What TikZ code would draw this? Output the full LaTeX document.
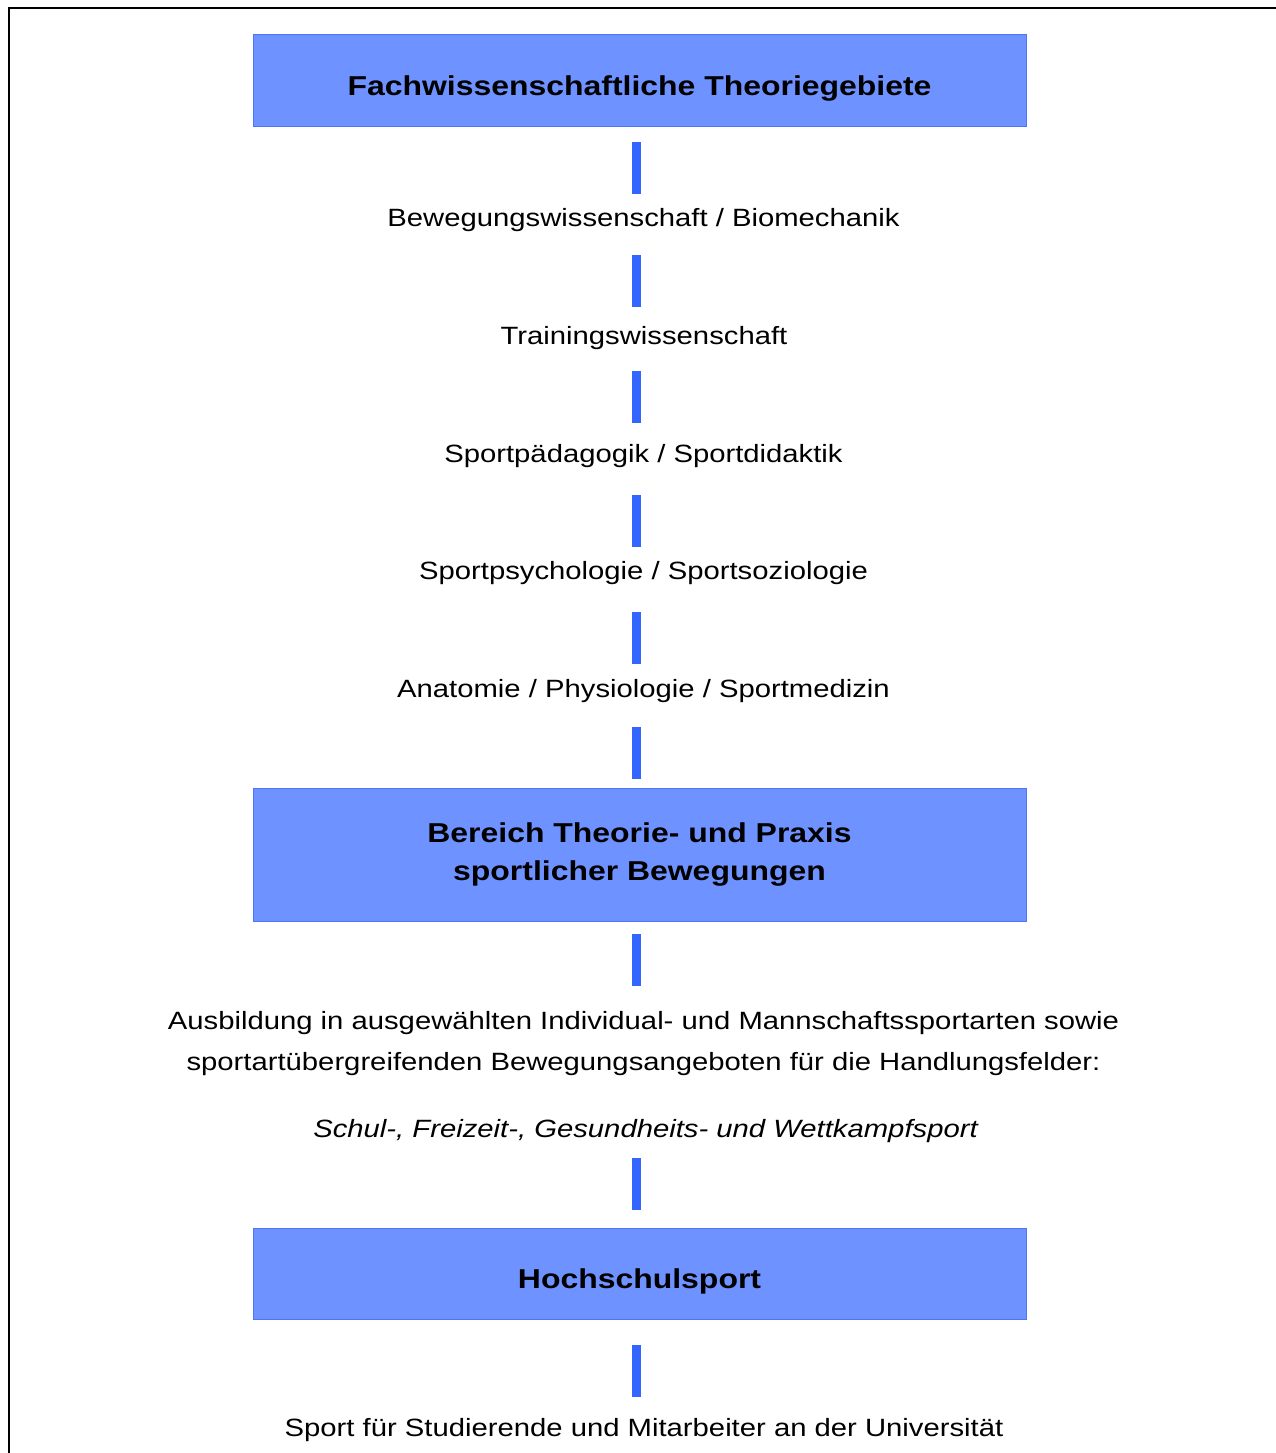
\documentclass[tikz,border=0pt]{standalone}
\usepackage{fontspec}
\setmainfont{Liberation Sans}[FakeStretch=1.17]
\definecolor{boxfill}{HTML}{6E92FF}
\definecolor{boxline}{HTML}{4D74FF}
\definecolor{barblue}{HTML}{3366FF}
\begin{document}
\begin{tikzpicture}[x=1pt,y=-1pt,
  hbox/.style={draw=boxline,line width=1pt,fill=boxfill,minimum width=773pt,inner sep=0pt,anchor=north west,font=\fontsize{27.3}{38}\selectfont\bfseries,align=center},
  txt/.style={anchor=base,inner sep=0pt,font=\fontsize{25}{30}\selectfont},
  bar/.style={draw=barblue,line width=9pt}]
\useasboundingbox (0,0) rectangle (1276,1453);
\draw[line width=2pt] (8.5,1453) -- (8.5,8.5) -- (1276,8.5);
% boxes
\node[hbox,minimum height=92pt,text height=29pt,text depth=0pt] (b1) at (252.5,34.5) {Fachwissenschaftliche Theoriegebiete};
\node[hbox,minimum height=133pt,yshift=2pt] (b2) at (252.5,789.5) {Bereich Theorie- und Praxis\\sportlicher Bewegungen};
\node[hbox,minimum height=91pt,text height=29pt,text depth=0pt] (b3) at (252.5,1227.5) {Hochschulsport};
% texts
\node[txt] (t1) at (643.5,226) {Bewegungswissenschaft / Biomechanik};
\node[txt] (t2) at (644,344) {Trainingswissenschaft};
\node[txt] (t3) at (643.5,462) {Sportpädagogik / Sportdidaktik};
\node[txt] (t4) at (643.5,579) {Sportpsychologie / Sportsoziologie};
\node[txt] (t5) at (643.5,697) {Anatomie / Physiologie / Sportmedizin};
\node[txt] (t6) at (643.5,1029) {Ausbildung in ausgewählten Individual- und Mannschaftssportarten sowie};
\node[txt] (t7) at (643.5,1070) {sportartübergreifenden Bewegungsangeboten für die Handlungsfelder:};
\node[txt,font=\fontsize{25}{30}\selectfont\itshape] (t8) at (645.5,1137) {Schul-, Freizeit-, Gesundheits- und Wettkampfsport};
\node[txt] (t9) at (644,1436) {Sport für Studierende und Mitarbeiter an der Universität};
% bars
\foreach \a/\b in {142/194,255/307,371/423,495/547,612/664,727/779,934/986,1158/1210,1345/1397}
  \draw[bar] (636.8,\a) -- (636.8,\b);
\end{tikzpicture}
\end{document}
